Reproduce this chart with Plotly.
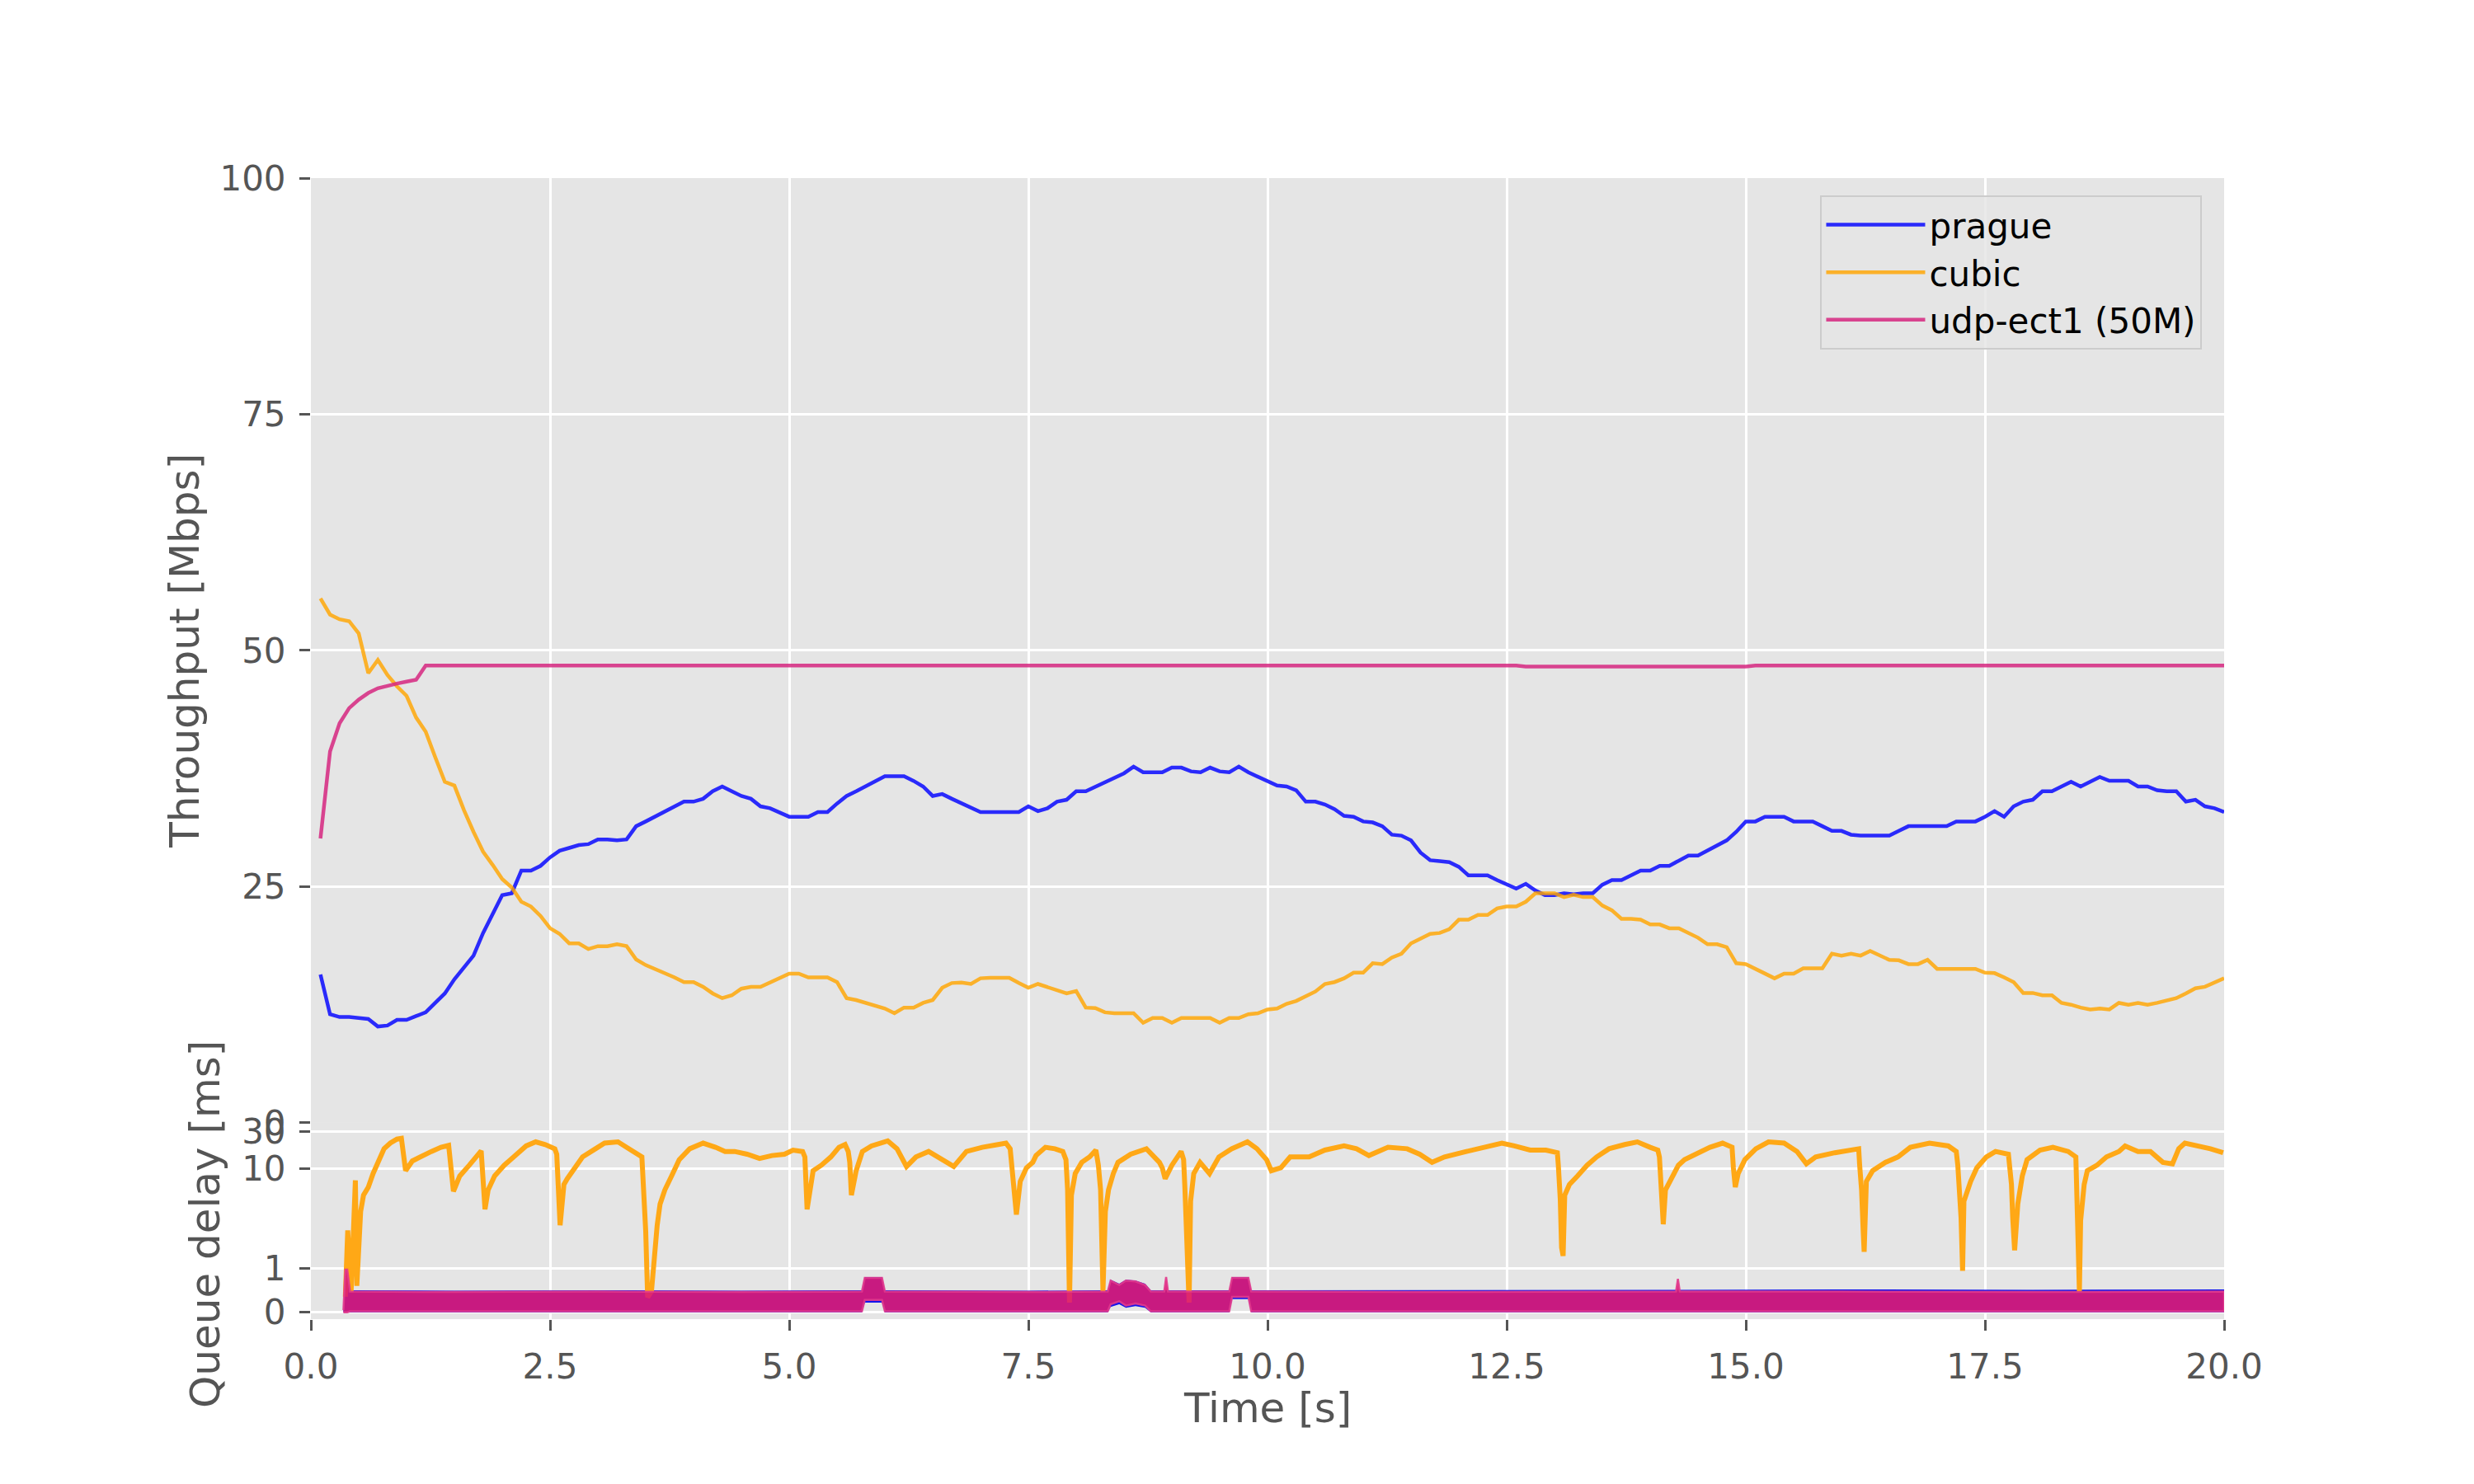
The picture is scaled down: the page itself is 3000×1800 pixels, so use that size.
import math

import plotly.graph_objects as go
from plotly.subplots import make_subplots

# --- throughput, sampled every 0.1 s ---
throughput_t = [round(0.1 * i, 1) for i in range(1, 201)]

prague_mbps = [
    15.7, 11.5, 11.2, 11.2, 11.1, 11.0, 10.2, 10.3, 10.9, 10.9,
    11.3, 11.7, 12.7, 13.7, 15.2, 16.4, 17.7, 20.1, 22.1, 24.1,
    24.3, 26.7, 26.7, 27.2, 28.1, 28.8, 29.1, 29.4, 29.5, 30.0,
    30.0, 29.9, 30.0, 31.4, 31.9, 32.4, 32.9, 33.4, 34.0, 34.0,
    34.3, 35.1, 35.6, 35.1, 34.6, 34.3, 33.5, 33.3, 32.9, 32.4,
    32.4, 32.4, 32.9, 32.9, 33.8, 34.6, 35.1, 35.6, 36.1, 36.7,
    36.7, 36.7, 36.2, 35.6, 34.6, 34.8, 34.3, 33.8, 33.3, 32.9,
    32.9, 32.9, 32.9, 32.9, 33.5, 33.0, 33.3, 34.0, 34.2, 35.1,
    35.1, 35.6, 36.1, 36.6, 37.0, 37.7, 37.1, 37.1, 37.1, 37.6,
    37.6, 37.2, 37.1, 37.6, 37.2, 37.1, 37.7, 37.1, 36.6, 36.1,
    35.7, 35.6, 35.2, 34.0, 34.0, 33.7, 33.2, 32.5, 32.4, 31.9,
    31.8, 31.4, 30.5, 30.4, 29.9, 28.6, 27.8, 27.7, 27.6, 27.1,
    26.2, 26.2, 26.2, 25.7, 25.3, 24.8, 25.3, 24.6, 24.1, 24.1,
    24.3, 24.2, 24.3, 24.3, 25.2, 25.7, 25.7, 26.2, 26.7, 26.7,
    27.2, 27.2, 27.8, 28.3, 28.3, 28.8, 29.3, 29.9, 30.8, 31.9,
    31.9, 32.4, 32.4, 32.4, 31.9, 31.9, 31.9, 31.4, 30.9, 30.9,
    30.5, 30.4, 30.4, 30.4, 30.4, 30.9, 31.4, 31.4, 31.4, 31.4,
    31.4, 31.9, 31.9, 31.9, 32.4, 33.0, 32.4, 33.5, 34.0, 34.2,
    35.1, 35.1, 35.6, 36.1, 35.6, 36.1, 36.6, 36.2, 36.2, 36.2,
    35.6, 35.6, 35.2, 35.1, 35.1, 34.0, 34.2, 33.5, 33.3, 32.9,
]

cubic_mbps = [
    55.5, 53.8, 53.3, 53.1, 51.8, 47.6, 49.0, 47.4, 46.2, 45.2,
    42.9, 41.4, 38.7, 36.1, 35.7, 33.1, 30.8, 28.7, 27.3, 25.8,
    24.9, 23.4, 22.9, 21.9, 20.6, 20.0, 19.0, 19.0, 18.4, 18.7,
    18.7, 18.9, 18.7, 17.3, 16.7, 16.3, 15.8, 15.4, 14.9, 14.9,
    14.4, 13.7, 13.2, 13.5, 14.2, 14.4, 14.4, 14.9, 15.4, 15.8,
    15.8, 15.4, 15.4, 15.4, 14.9, 13.2, 13.0, 12.7, 12.5, 12.1,
    11.6, 12.2, 12.2, 12.7, 13.0, 14.3, 14.8, 14.85, 14.7, 15.3,
    15.35, 15.35, 15.35, 14.8, 14.3, 14.7, 14.4, 14.0, 13.7, 13.95,
    12.2, 12.15, 11.7, 11.6, 11.6, 11.6, 10.6, 11.1, 11.1, 10.6,
    11.1, 11.1, 11.1, 11.1, 10.6, 11.1, 11.1, 11.5, 11.6, 12.0,
    12.1, 12.6, 12.9, 13.4, 13.9, 14.7, 14.9, 15.3, 15.9, 15.9,
    16.9, 16.8, 17.5, 17.9, 19.0, 19.5, 20.0, 20.1, 20.5, 21.5,
    21.5, 22.0, 22.0, 22.7, 22.9, 22.9, 23.4, 24.3, 24.3, 24.3,
    23.9, 24.15, 23.9, 23.9, 23.0, 22.5, 21.6, 21.6, 21.5, 21.0,
    21.0, 20.6, 20.6, 20.1, 19.6, 18.9, 18.9, 18.6, 16.9, 16.8,
    16.35, 15.8, 15.3, 15.8, 15.8, 16.35, 16.35, 16.35, 17.9, 17.7,
    17.9, 17.7, 18.2, 17.7, 17.25, 17.2, 16.8, 16.8, 17.25, 16.3,
    16.3, 16.3, 16.3, 16.3, 15.9, 15.85, 15.4, 14.9, 13.75, 13.75,
    13.5, 13.5, 12.7, 12.5, 12.2, 12.0, 12.1, 12.0, 12.7, 12.5,
    12.7, 12.5, 12.7, 12.9, 13.2, 13.7, 14.25, 14.4, 14.8, 15.3,
]

udp_mbps = [
    30.1, 39.3, 42.3, 43.9, 44.8, 45.5, 46.0, 46.3, 46.5, 46.7,
    46.9, 48.4, 48.4, 48.4, 48.4, 48.4, 48.4, 48.4, 48.4, 48.4,
    48.4, 48.4, 48.4, 48.4, 48.4, 48.4, 48.4, 48.4, 48.4, 48.4,
    48.4, 48.4, 48.4, 48.4, 48.4, 48.4, 48.4, 48.4, 48.4, 48.4,
    48.4, 48.4, 48.4, 48.4, 48.4, 48.4, 48.4, 48.4, 48.4, 48.4,
    48.4, 48.4, 48.4, 48.4, 48.4, 48.4, 48.4, 48.4, 48.4, 48.4,
    48.4, 48.4, 48.4, 48.4, 48.4, 48.4, 48.4, 48.4, 48.4, 48.4,
    48.4, 48.4, 48.4, 48.4, 48.4, 48.4, 48.4, 48.4, 48.4, 48.4,
    48.4, 48.4, 48.4, 48.4, 48.4, 48.4, 48.4, 48.4, 48.4, 48.4,
    48.4, 48.4, 48.4, 48.4, 48.4, 48.4, 48.4, 48.4, 48.4, 48.4,
    48.4, 48.4, 48.4, 48.4, 48.4, 48.4, 48.4, 48.4, 48.4, 48.4,
    48.4, 48.4, 48.4, 48.4, 48.4, 48.4, 48.4, 48.4, 48.4, 48.4,
    48.4, 48.4, 48.4, 48.4, 48.4, 48.4, 48.3, 48.3, 48.3, 48.3,
    48.3, 48.3, 48.3, 48.3, 48.3, 48.3, 48.3, 48.3, 48.3, 48.3,
    48.3, 48.3, 48.3, 48.3, 48.3, 48.3, 48.3, 48.3, 48.3, 48.3,
    48.4, 48.4, 48.4, 48.4, 48.4, 48.4, 48.4, 48.4, 48.4, 48.4,
    48.4, 48.4, 48.4, 48.4, 48.4, 48.4, 48.4, 48.4, 48.4, 48.4,
    48.4, 48.4, 48.4, 48.4, 48.4, 48.4, 48.4, 48.4, 48.4, 48.4,
    48.4, 48.4, 48.4, 48.4, 48.4, 48.4, 48.4, 48.4, 48.4, 48.4,
    48.4, 48.4, 48.4, 48.4, 48.4, 48.4, 48.4, 48.4, 48.4, 48.4,
]

# --- cubic queue delay (ms) ---
cubic_qd_t = [
    0.36, 0.385, 0.42, 0.465, 0.48, 0.52, 0.55, 0.60, 0.65, 0.70,
    0.765, 0.83, 0.90, 0.946, 0.99, 1.06, 1.16, 1.26, 1.36, 1.44,
    1.49, 1.556, 1.655, 1.754, 1.78, 1.82, 1.853, 1.92, 2.02, 2.12,
    2.25, 2.35, 2.45, 2.55, 2.57, 2.605, 2.645, 2.68, 2.744, 2.84,
    2.975, 3.07, 3.21, 3.305, 3.44, 3.46, 3.50, 3.52, 3.56, 3.59,
    3.62, 3.65, 3.70, 3.77, 3.85, 3.96, 4.10, 4.23, 4.33, 4.43,
    4.56, 4.69, 4.82, 4.95, 5.04, 5.14, 5.164, 5.187, 5.22, 5.25,
    5.335, 5.435, 5.52, 5.584, 5.617, 5.633, 5.65, 5.70, 5.765, 5.86,
    6.03, 6.127, 6.226, 6.325, 6.457, 6.59, 6.72, 6.853, 7.018, 7.183,
    7.266, 7.31, 7.332, 7.375, 7.415, 7.48, 7.546, 7.58, 7.678, 7.777,
    7.86, 7.893, 7.91, 7.92, 7.93, 7.95, 7.99, 8.058, 8.14, 8.206,
    8.232, 8.255, 8.28, 8.305, 8.338, 8.388, 8.437, 8.57, 8.734, 8.87,
    8.90, 8.93, 9.0, 9.097, 9.123, 9.136, 9.16, 9.18, 9.196, 9.229,
    9.295, 9.394, 9.492, 9.625, 9.79, 9.89, 9.99, 10.04, 10.14, 10.237,
    10.435, 10.6, 10.8, 10.93, 11.06, 11.26, 11.46, 11.59, 11.72, 11.85,
    12.08, 12.25, 12.45, 12.58, 12.745, 12.91, 13.03, 13.04, 13.06, 13.074,
    13.09, 13.107, 13.156, 13.24, 13.34, 13.44, 13.57, 13.734, 13.866, 14.0,
    14.08, 14.097, 14.114, 14.13, 14.137, 14.16, 14.23, 14.295, 14.36, 14.49,
    14.625, 14.757, 14.856, 14.87, 14.89, 14.92, 14.99, 15.105, 15.237, 15.40,
    15.535, 15.633, 15.73, 15.93, 16.06, 16.18, 16.19, 16.21, 16.227, 16.237,
    16.26, 16.326, 16.458, 16.59, 16.72, 16.92, 17.117, 17.2, 17.216, 17.233,
    17.25, 17.266, 17.28, 17.35, 17.415, 17.514, 17.61, 17.745, 17.76, 17.777,
    17.79, 17.81, 17.843, 17.89, 17.94, 18.075, 18.21, 18.37, 18.45, 18.454,
    18.47, 18.487, 18.50, 18.537, 18.57, 18.67, 18.77, 18.9, 18.965, 19.1,
    19.23, 19.36, 19.46, 19.526, 19.59, 19.725, 19.856, 19.99,
]
cubic_qd_ms = [
    0.35, 2.4, 0.45, 7.6, 0.6, 3.7, 5.4, 6.5, 8.9, 12.0,
    18.0, 21.3, 24.0, 24.6, 9.5, 12.5, 14.7, 16.6, 18.8, 19.9,
    5.9, 8.4, 11.0, 15.3, 16.9, 3.9, 6.1, 8.4, 11.0, 14.1,
    19.6, 22.1, 20.4, 18.0, 15.3, 2.7, 6.9, 7.9, 9.5, 14.1,
    18.0, 21.3, 22.1, 18.8, 14.7, 14.1, 2.35, 0.34, 0.47, 1.5,
    2.7, 4.4, 6.1, 8.4, 13.0, 18.0, 21.3, 18.8, 16.6, 16.6,
    15.3, 13.5, 14.7, 15.3, 17.3, 16.6, 14.1, 3.9, 6.5, 9.5,
    11.0, 14.1, 18.8, 20.4, 16.6, 12.0, 5.4, 9.5, 16.6, 19.6,
    22.7, 18.0, 10.6, 14.1, 16.6, 13.0, 10.6, 16.6, 18.8, 20.4,
    21.3, 18.0, 10.2, 3.45, 7.4, 10.2, 12.0, 14.7, 18.8, 18.0,
    16.6, 13.0, 6.1, 1.7, 0.22, 5.4, 8.9, 12.0, 14.1, 17.3,
    11.0, 6.1, 0.47, 3.7, 6.1, 8.9, 12.0, 15.3, 18.0, 12.0,
    10.2, 7.9, 11.0, 16.6, 13.0, 6.5, 1.42, 0.22, 4.7, 8.9,
    12.0, 8.9, 14.1, 18.0, 22.1, 18.0, 13.0, 9.5, 10.2, 14.1,
    14.1, 17.3, 19.6, 18.0, 14.7, 18.8, 18.0, 15.3, 12.0, 14.1,
    16.6, 18.8, 21.3, 19.6, 17.3, 17.3, 16.0, 11.0, 5.0, 1.61,
    1.33, 5.4, 6.9, 8.4, 11.0, 14.1, 18.0, 20.4, 22.1, 18.8,
    17.3, 14.1, 7.4, 3.7, 2.76, 6.1, 8.4, 11.0, 13.0, 15.3,
    18.8, 21.3, 18.8, 10.2, 6.5, 8.9, 13.0, 18.0, 22.1, 21.3,
    16.6, 11.5, 14.1, 16.0, 17.3, 18.0, 11.0, 6.1, 2.35, 1.46,
    7.4, 9.5, 12.0, 14.1, 18.8, 21.3, 19.6, 16.6, 11.0, 6.9,
    3.2, 0.94, 4.7, 7.4, 10.2, 14.1, 16.6, 15.3, 11.0, 6.9,
    3.2, 1.51, 4.4, 8.4, 13.0, 17.3, 18.8, 16.6, 14.1, 8.4,
    1.71, 0.47, 3.0, 6.9, 9.5, 11.0, 14.1, 16.6, 19.6, 16.6,
    16.6, 12.0, 11.5, 18.0, 21.3, 19.6, 18.0, 16.0,
]

# --- prague / udp queue delay: envelope of the dense point cloud (ms) ---
qd_band_t = [
    0.34, 0.36, 0.38, 0.41, 1.5, 3.0, 4.5, 5.76, 5.79, 5.97,
    6.00, 7.5, 8.33, 8.36, 8.45, 8.52, 8.62, 8.72, 8.78, 8.92,
    8.94, 8.96, 9.60, 9.63, 9.80, 9.83, 11.5, 13.0, 14.27, 14.29,
    14.31, 16.0, 18.0, 20.0,
]
udp_qd_hi = [
    0.05, 0.97, 0.97, 0.47, 0.46, 0.47, 0.46, 0.47, 0.78, 0.78,
    0.47, 0.46, 0.47, 0.72, 0.62, 0.72, 0.70, 0.62, 0.47, 0.47,
    0.80, 0.47, 0.47, 0.78, 0.78, 0.47, 0.46, 0.47, 0.47, 0.76,
    0.47, 0.47, 0.46, 0.47,
]
udp_qd_lo = [
    0.0, 0.0, 0.0, 0.02, 0.02, 0.02, 0.02, 0.02, 0.28, 0.28,
    0.02, 0.02, 0.02, 0.18, 0.25, 0.15, 0.20, 0.15, 0.02, 0.02,
    0.02, 0.02, 0.02, 0.35, 0.35, 0.02, 0.02, 0.02, 0.02, 0.02,
    0.02, 0.02, 0.02, 0.02,
]
prague_qd_hi = [
    0.05, 1.0, 1.0, 0.50, 0.49, 0.50, 0.49, 0.50, 0.80, 0.80,
    0.50, 0.49, 0.50, 0.74, 0.65, 0.74, 0.72, 0.65, 0.50, 0.50,
    0.50, 0.50, 0.50, 0.80, 0.80, 0.50, 0.50, 0.50, 0.51, 0.51,
    0.51, 0.52, 0.51, 0.52,
]
prague_qd_lo = [
    0.0, 0.0, 0.0, 0.0, 0.0, 0.0, 0.0, 0.0, 0.22, 0.22,
    0.0, 0.0, 0.0, 0.12, 0.18, 0.10, 0.14, 0.10, 0.0, 0.0,
    0.0, 0.0, 0.0, 0.30, 0.30, 0.0, 0.0, 0.0, 0.0, 0.0,
    0.0, 0.0, 0.0, 0.0,
]

time_ticks = [0, 2.5, 5, 7.5, 10, 12.5, 15, 17.5, 20]
thr_ticks = [0, 25, 50, 75, 100]
qd_ticks = [0, 1, 10, 30]

# the delay axis is linear below 1 ms and compressed-log above it
LIN_PART = 0.4408
UPPER_PART = 0.7737


def qd_pos(ms):
    if ms <= 1:
        return ms * LIN_PART
    if ms <= 10:
        return LIN_PART + math.log10(ms)
    return LIN_PART + 1 + UPPER_PART * math.log10(ms / 10)


def band(t, hi, lo):
    xs = list(t) + list(reversed(t))
    ys = [qd_pos(v) for v in hi] + [qd_pos(v) for v in reversed(lo)]
    return xs, ys


FONT = "DejaVu Sans"
GREY = "#555555"

fig = make_subplots(rows=2, cols=1, shared_xaxes=True, vertical_spacing=0,
                    row_heights=[0.828, 0.172])

fig.add_trace(go.Scatter(x=throughput_t, y=prague_mbps, mode="lines", name="prague",
                         line=dict(color="rgba(0,0,255,0.82)", width=4.5)), row=1, col=1)
fig.add_trace(go.Scatter(x=throughput_t, y=cubic_mbps, mode="lines", name="cubic",
                         line=dict(color="rgba(255,165,0,0.82)", width=4.5)), row=1, col=1)
fig.add_trace(go.Scatter(x=throughput_t, y=udp_mbps, mode="lines", name="udp-ect1 (50M)",
                         line=dict(color="rgba(214,39,128,0.85)", width=4.5)), row=1, col=1)

bx, by = band(qd_band_t, prague_qd_hi, prague_qd_lo)
fig.add_trace(go.Scatter(x=bx, y=by, mode="lines", fill="toself", showlegend=False,
                         fillcolor="rgb(20,20,235)", line=dict(width=0),
                         hoverinfo="skip"), row=2, col=1)
fig.add_trace(go.Scatter(x=cubic_qd_t, y=[qd_pos(v) for v in cubic_qd_ms], mode="lines",
                         showlegend=False, line=dict(color="rgb(255,168,22)", width=6)),
              row=2, col=1)
ux, uy = band(qd_band_t, udp_qd_hi, udp_qd_lo)
fig.add_trace(go.Scatter(x=ux, y=uy, mode="lines", fill="toself", showlegend=False,
                         fillcolor="rgba(220,27,116,0.9)",
                         line=dict(color="rgba(226,58,140,0.9)", width=2.5),
                         hoverinfo="skip"), row=2, col=1)

axis_common = dict(
    showgrid=True, gridcolor="white", gridwidth=3, zeroline=False, showline=False,
    ticks="outside", ticklen=13, tickwidth=2.5, tickcolor=GREY,
    tickfont=dict(family=FONT, size=42, color=GREY), ticklabelstandoff=8,
)

fig.update_xaxes(range=[0, 20], tickvals=time_ticks, **axis_common)
fig.update_xaxes(showticklabels=False, ticks="", row=1, col=1)
fig.update_xaxes(ticktext=[f"{v:.1f}" for v in time_ticks], row=2, col=1)
fig.update_yaxes(**axis_common)
fig.update_yaxes(range=[0, 100], tickvals=thr_ticks, domain=[0.172, 1], row=1, col=1)
fig.update_yaxes(range=[-0.069, 1.898], tickvals=[qd_pos(v) for v in qd_ticks],
                 ticktext=[str(v) for v in qd_ticks], domain=[0, 0.172], row=2, col=1)

# page body adds an 8 px offset, so the margins are shifted by it
fig.update_layout(
    width=3000,
    height=1800,
    paper_bgcolor="white",
    plot_bgcolor="#E5E5E5",
    font=dict(family=FONT, color=GREY),
    margin=dict(l=369, r=311, t=208, b=208, pad=0),
    showlegend=True,
    legend=dict(
        x=0.789, y=0.985, xanchor="left", yanchor="top",
        bgcolor="rgba(229,229,229,0.8)", bordercolor="#cccccc", borderwidth=2,
        font=dict(family=FONT, size=42, color="black"),
        itemwidth=120,
    ),
    annotations=[
        dict(text="Time [s]", xref="paper", yref="paper", x=0.5, y=-0.078,
             xanchor="center", yanchor="middle", showarrow=False,
             font=dict(family=FONT, size=50, color=GREY)),
        dict(text="Throughput [Mbps]", xref="paper", yref="paper", x=-0.066, y=0.586,
             xanchor="center", yanchor="middle", textangle=-90, showarrow=False,
             font=dict(family=FONT, size=50, color=GREY)),
        dict(text="Queue delay [ms]", xref="paper", yref="paper", x=-0.0552, y=0.083,
             xanchor="center", yanchor="middle", textangle=-90, showarrow=False,
             font=dict(family=FONT, size=50, color=GREY)),
    ],
)

fig.write_html("out.html")
